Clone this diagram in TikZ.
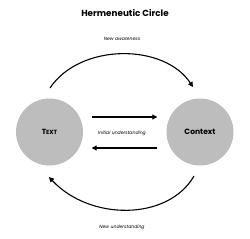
\documentclass[tikz,border=0pt]{standalone}
\usepackage{fontspec}
\setmainfont{Poppins}
\usetikzlibrary{arrows.meta,calc}
\begin{document}
\begin{tikzpicture}[x=1pt,y=-1pt,
  circ/.style={circle,fill=black!26,minimum size=67pt,inner sep=0pt},
  arr/.style={line width=1.1pt,-{Triangle[length=5pt,width=5pt]}},
  lbl/.style={font=\itshape\fontsize{4.6}{5}\selectfont,inner sep=0pt}]
\useasboundingbox (0,0) rectangle (250,239);
\node[font=\bfseries\fontsize{8.8}{10}\selectfont] (title) at (125,13) {Hermeneutic Circle};
\node[circ] (text) at (49.5,132) {};
\node[circ] (context) at (200,132) {};
\node[font=\bfseries\fontsize{7.4}{8}\selectfont] (textlbl) at (text) {T{\fontsize{6}{7}\selectfont EXT}};
\node[font=\bfseries\fontsize{7.6}{8}\selectfont] (contextlbl) at (context) {Context};
\coordinate (ta) at (50,88);
\coordinate (tb) at (193,87);
\coordinate (ba) at (194,176);
\coordinate (bb) at (49,177);
\draw[arr] (ta) .. controls (80,43) and (164,43) .. (tb);
\draw[arr] (ba) .. controls (168,221) and (90,221) .. (bb);
\draw[arr] ($(text.east)+(8.5,-15)$) -- ($(context.west)+(-9,-15)$);
\draw[arr] ($(context.west)+(-9,16)$) -- ($(text.east)+(8.5,16)$);
\node[lbl] (na) at (122,38.5) {New awareness};
\node[lbl] (iu) at (122,133) {Initial understanding};
\node[lbl] (nu) at (122,227) {New understanding};
\end{tikzpicture}
\end{document}
